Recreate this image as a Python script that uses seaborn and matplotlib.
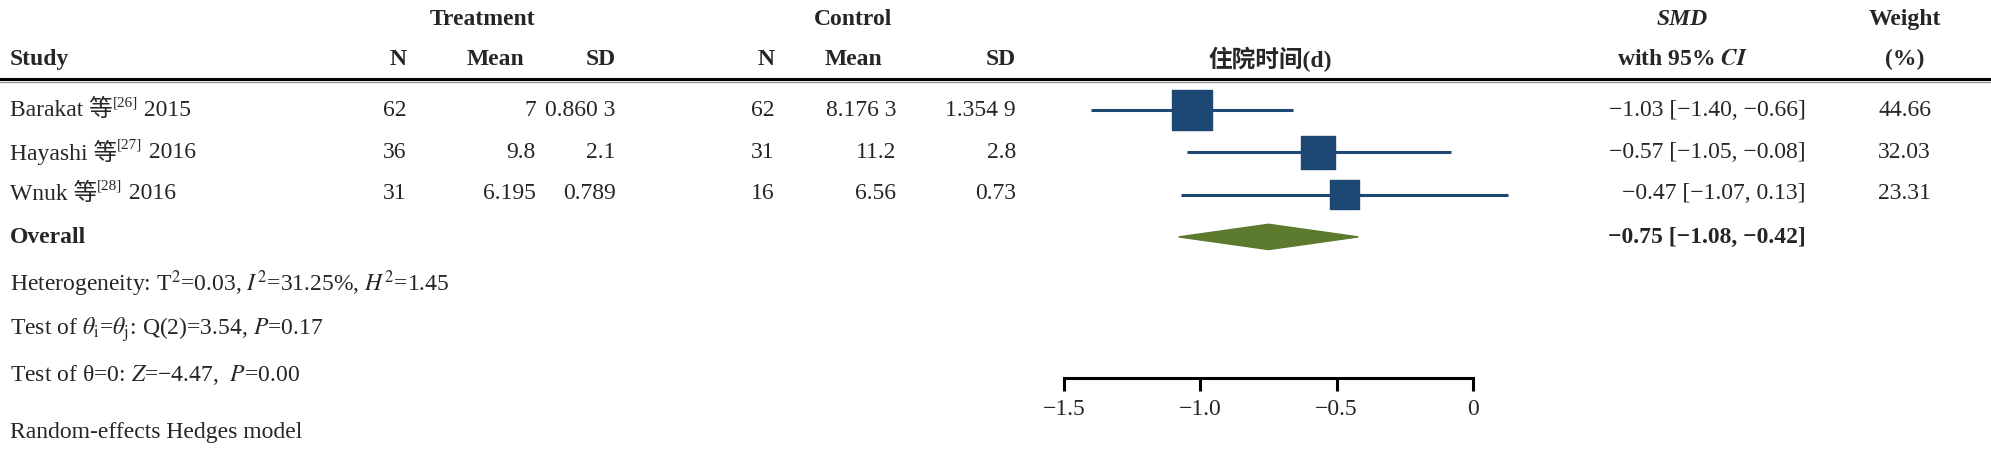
import matplotlib
matplotlib.use("Agg")
import matplotlib.pyplot as plt
import seaborn as sns
import numpy as np
from matplotlib.lines import Line2D

sns.set_theme(style="white")
plt.rcParams['font.family'] = ['Liberation Serif', 'Noto Sans CJK SC', 'DejaVu Sans']
plt.rcParams['mathtext.fontset'] = 'stix'

study_names = ["Barakat 等", "Hayashi 等", "Wnuk 等"]
study_refs = ["[26]", "[27]", "[28]"]
study_years = ["2015", "2016", "2016"]
t_n = ["62", "36", "31"]
t_mean = ["7", "9.8", "6.195"]
t_sd = ["0.860 3", "2.1", "0.789"]
c_n = ["62", "31", "16"]
c_mean = ["8.176 3", "11.2", "6.56"]
c_sd = ["1.354 9", "2.8", "0.73"]
smd = [-1.03, -0.57, -0.47]
lo = [-1.40, -1.05, -1.07]
hi = [-0.66, -0.08, 0.13]
weights = [44.66, 32.03, 23.31]
overall = (-0.75, -1.08, -0.42)
xticks = [-1.5, -1.0, -0.5, 0]
xticklabels = ["−1.5", "−1.0", "−0.5", "0"]

W, H = 1568.0, 355.0
fig = plt.figure(figsize=(19.91, 4.5), dpi=100)
renderer = fig.canvas.get_renderer()
FS = 17

def T(x, y, s, ha="left", **kw):
    return fig.text(x / W, 1 - y / H, s, ha=ha, va="center", fontsize=FS, **kw)

def chain(x, y, parts):
    # parts: list of (text, dy, fontsize)
    cx = x
    for s, dy, fs in parts:
        t = fig.text(cx / W, 1 - (y + dy) / H, s, ha="left", va="center", fontsize=fs)
        bb = t.get_window_extent(renderer)
        cx += bb.width * W / fig.bbox.width

def fmt(v):
    return f"{v:.2f}".replace("-", "−")

# headers
T(380, 15, "Treatment", ha="center", weight="bold")
T(672, 15, "Control", ha="center", weight="bold")
T(8, 47, "Study", weight="bold")
for x, s, ha in [(320, "N", "right"), (390, "Mean", "center"), (485, "SD", "right"),
                 (610, "N", "right"), (672, "Mean", "center"), (800, "SD", "right")]:
    T(x, 47, s, ha=ha, weight="bold")
T(1000, 47, "住院时间(d)", ha="center", weight="bold")
T(1325, 15, "SMD", ha="center", weight="bold", style="italic")
T(1325, 47, "with 95% $\\boldsymbol{CI}$", ha="center", weight="bold")
T(1500, 15, "Weight", ha="center", weight="bold")
T(1500, 47, "(%)", ha="center", weight="bold")

fig.add_artist(Line2D([0, 1], [1 - 62 / H] * 2, color="black", lw=2.2, transform=fig.transFigure))
fig.add_artist(Line2D([0, 1], [1 - 65 / H] * 2, color="#999999", lw=1.0, transform=fig.transFigure))

rows_y = [87, 120, 153]
for i, y in enumerate(rows_y):
    chain(8, y, [(study_names[i], 0, FS), (study_refs[i], -6, 11), (" " + study_years[i], 0, FS)])
    T(320, y, t_n[i], ha="right")
    T(422, y, t_mean[i], ha="right")
    T(485, y, t_sd[i], ha="right")
    T(610, y, c_n[i], ha="right")
    T(706, y, c_mean[i], ha="right")
    T(800, y, c_sd[i], ha="right")
    T(1422, y, f"{fmt(smd[i])} [{fmt(lo[i])}, {fmt(hi[i])}]", ha="right")
    T(1500, y, f"{weights[i]:.2f}", ha="center")
T(8, 187, "Overall", weight="bold")
T(1422, 187, f"{fmt(overall[0])} [{fmt(overall[1])}, {fmt(overall[2])}]", ha="right", weight="bold")

T(8, 224, "Heterogeneity: T$^2$=0.03, $I^2$=31.25%, $H^2$=1.45")
T(8, 260, "Test of $\\theta_\\mathrm{i}$=$\\theta_\\mathrm{j}$: Q(2)=3.54, $P$=0.17")
T(8, 296, "Test of θ=0: $Z$=−4.47,  $P$=0.00")
T(8, 341, "Random-effects Hedges model")

# forest axes
x0, x1 = 838, 1160
ytop, ybot = 70, 298
ax = fig.add_axes([x0 / W, 1 - ybot / H, (x1 - x0) / W, (ybot - ytop) / H])
ax.set_facecolor("none")
step = 33.3
ax.set_xlim(-1.5, 0)
ax.set_ylim((ybot - 87) / step, (ytop - 87) / step)
navy = "#1d4873"
ypos = np.arange(3)
ax.hlines(ypos, lo, hi, color=navy, lw=2.2, clip_on=False)
sides = [40 * np.sqrt(w / weights[0]) / 1.389 for w in weights]
ax.scatter(smd, ypos, marker="s", s=np.array(sides) ** 2, color=navy, zorder=3, clip_on=False)
dy = 0.3
ax.fill([overall[1], overall[0], overall[2], overall[0]], [3, 3 - dy, 3, 3 + dy],
        color="#5b7a2e", clip_on=False, zorder=3)
for sp in ["top", "left", "right"]:
    ax.spines[sp].set_visible(False)
ax.spines["bottom"].set_color("black")
ax.spines["bottom"].set_linewidth(2.2)
ax.set_yticks([])
ax.set_xticks(xticks)
ax.set_xticklabels(xticklabels, fontsize=FS)
ax.tick_params(axis="x", direction="out", length=9, width=2.2, color="black", bottom=True, pad=6)

fig.savefig("out.png", dpi=100)
